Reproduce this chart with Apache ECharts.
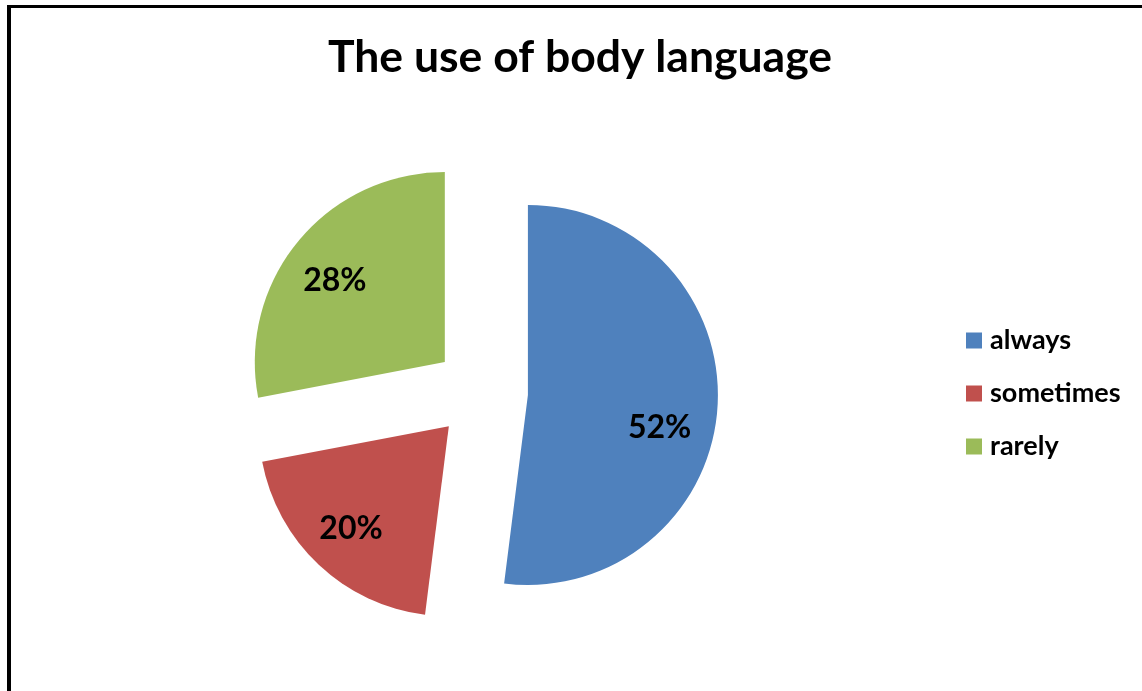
<!DOCTYPE html>
<html>
<head>
<meta charset="utf-8">
<script src="https://cdn.jsdelivr.net/npm/echarts@6/dist/echarts.min.js"></script>
<style>
  html, body { margin: 0; padding: 0; background: #fff; }
  #wrap { position: absolute; left: 0; top: 0; width: 1142px; height: 691px; overflow: hidden; }
  #frame { position: absolute; left: 7px; top: 5px; width: 1200px; height: 800px; border-left: 4px solid #000; border-top: 3px solid #000; box-sizing: border-box; }
  #chart { position: absolute; left: 0; top: 0; width: 1142px; height: 691px; }
</style>
</head>
<body>
<div id="wrap">
  <div id="frame"></div>
  <div id="chart"></div>
</div>
<script>
const titleText = 'The use of body language';
const categories = ['always', 'sometimes', 'rarely'];
const values = [52, 20, 28];
const colors = ['#4F81BD', '#C0504D', '#9BBB59'];

const font = 'Lato, "Open Sans", sans-serif';
const chart = echarts.init(document.getElementById('chart'), null, { renderer: 'canvas' });

// label nudges [left, down] in px, realised with rich-text spacers
const labelShift = [[8, 24], [2, 0], [2, 8]];
const pieData = categories.map((c, i) => ({
  name: c, value: values[i], selected: true,
  itemStyle: { color: colors[i] }
}));
const labelData = categories.map((c, i) => {
  const [sx, sy] = labelShift[i];
  return {
    name: c, value: values[i], selected: true,
    label: {
      formatter: (sy > 0 ? '{g|}\n' : '') + '{v|' + values[i] + '%}' + (sx > 0 ? '{p|}' : ''),
      rich: {
        g: { height: 2 * sy, width: 1 },
        p: { width: 2 * sx },
        v: { fontFamily: font, fontWeight: 'bold', fontSize: 32, color: '#000', lineHeight: 38 }
      }
    }
  };
});

chart.setOption({
  animation: false,
  backgroundColor: 'transparent',
  title: {
    text: titleText, left: 575, top: 30, textAlign: 'center',
    textStyle: { fontFamily: font, fontWeight: 'bold', fontSize: 44.5, color: '#000' }
  },
  legend: {
    orient: 'vertical', left: 966, top: 327, padding: 0,
    itemWidth: 16, itemHeight: 16, itemGap: 26,
    icon: 'rect',
    data: categories,
    textStyle: { fontFamily: font, fontWeight: 'bold', fontSize: 27, color: '#000', lineHeight: 26, padding: [0, 0, 0, 3] }
  },
  series: [
    {
      type: 'pie', center: [481, 392], radius: [0, 190],
      startAngle: 90, clockwise: true,
      selectedMode: 'multiple', selectedOffset: 47,
      label: { show: false }, labelLine: { show: false },
      itemStyle: { borderWidth: 0 },
      emphasis: { disabled: true },
      data: pieData
    },
    {
      type: 'pie', center: [481, 392], radius: [84, 190],
      startAngle: 90, clockwise: true,
      selectedMode: 'multiple', selectedOffset: 47,
      silent: true, legendHoverLink: false,
      itemStyle: { color: 'rgba(0,0,0,0)', borderWidth: 0 },
      label: {
        show: true, position: 'inside',
        fontFamily: font, fontWeight: 'bold', fontSize: 32, color: '#000'
      },
      labelLine: { show: false },
      emphasis: { disabled: true },
      data: labelData
    }
  ]
});
</script>
</body>
</html>
